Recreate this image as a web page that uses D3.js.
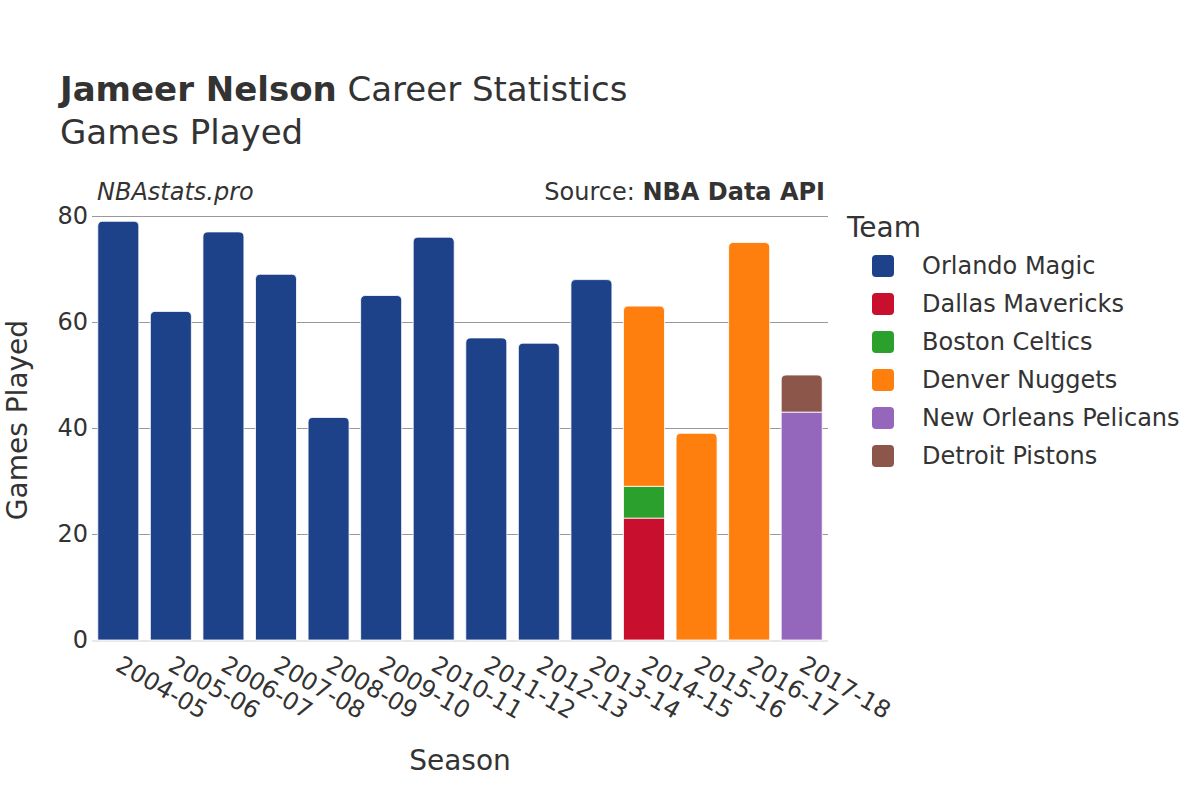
<!DOCTYPE html>
<html><head><meta charset="utf-8">
<script src="https://cdn.jsdelivr.net/npm/d3@7"></script>
<style>body{margin:0;background:#fff}svg{display:block}text{font-family:"DejaVu Sans",sans-serif;fill:#333}</style>
</head><body><svg id="c" width="1200" height="800"></svg>
<script>
const seasons = ["2004-05","2005-06","2006-07","2007-08","2008-09","2009-10","2010-11","2011-12","2012-13","2013-14","2014-15","2015-16","2016-17","2017-18"];
const teams = ["Orlando Magic","Dallas Mavericks","Boston Celtics","Denver Nuggets","New Orleans Pelicans","Detroit Pistons"];
const teamColors = ["#1d428a","#c8102e","#2ca02c","#ff7f0e","#9467bd","#8c564b"];
const orlando = [79,62,77,69,42,65,76,57,56,68,0,0,0,0];
const dallas  = [0,0,0,0,0,0,0,0,0,0,23,0,0,0];
const boston  = [0,0,0,0,0,0,0,0,0,0,6,0,0,0];
const denver  = [0,0,0,0,0,0,0,0,0,0,34,39,75,0];
const pelicans= [0,0,0,0,0,0,0,0,0,0,0,0,0,43];
const detroit = [0,0,0,0,0,0,0,0,0,0,0,0,0,7];
const yTicks = [0,20,40,60,80];
const series = [orlando,dallas,boston,denver,pelicans,detroit];

const svg = d3.select("#c");
const L=92,R=828,T=216,B=640;
const x = d3.scaleBand().domain(seasons).range([L,R]).paddingInner(0.22).paddingOuter(0.11);
const y = d3.scaleLinear().domain([0,80]).range([B,T]);

// grid
svg.append("g").selectAll("line").data(yTicks.filter(d=>d>0)).join("line")
  .attr("x1",L).attr("x2",R).attr("y1",d=>Math.round(y(d))+0.5).attr("y2",d=>Math.round(y(d))+0.5)
  .attr("stroke","#999").attr("stroke-width",1);
// baseline
svg.append("line").attr("x1",L).attr("x2",R).attr("y1",B+1).attr("y2",B+1).attr("stroke","#e8e8e8").attr("stroke-width",2);

// stacked bars
const r=5;
function topRounded(x0,y0,w,h){
  const rr=Math.min(r,h,w/2);
  return `M${x0},${y0+h}V${y0+rr}Q${x0},${y0} ${x0+rr},${y0}H${x0+w-rr}Q${x0+w},${y0} ${x0+w},${y0+rr}V${y0+h}Z`;
}
const g = svg.append("g");
seasons.forEach((s,i)=>{
  let acc=0;
  const segs=[];
  series.forEach((arr,k)=>{ if(arr[i]>0){ segs.push({k,v0:acc,v1:acc+arr[i]}); acc+=arr[i]; } });
  segs.forEach((sg,j)=>{
    const x0=x(s), w=x.bandwidth(), y0=y(sg.v1), h=y(sg.v0)-y(sg.v1);
    const isTop = j===segs.length-1;
    g.append("path").attr("d", isTop?topRounded(x0,y0,w,h):`M${x0},${y0}H${x0+w}V${y0+h}H${x0}Z`)
      .attr("fill",teamColors[sg.k]).attr("stroke","#fff").attr("stroke-width",0.8);
  });
});

// y ticks
svg.append("g").selectAll("text").data(yTicks).join("text")
  .attr("x",L-4).attr("y",d=>y(d)).attr("dy","0.35em").attr("text-anchor","end")
  .attr("font-size",24).text(d=>d);
// x ticks
svg.append("g").selectAll("text").data(seasons).join("text")
  .attr("transform",d=>`translate(${x(d)+x.bandwidth()/2+5},${B+14}) rotate(30)`)
  .attr("text-anchor","start").attr("dy","0.75em").attr("font-size",24).text(d=>d);

// axis titles
svg.append("text").attr("x",460).attr("y",770).attr("text-anchor","middle").attr("font-size",28).text("Season");
svg.append("text").attr("transform","translate(27,420) rotate(-90)").attr("text-anchor","middle").attr("font-size",28).text("Games Played");

// titles
const t=svg.append("text").attr("x",60).attr("y",101).attr("font-size",34);
t.append("tspan").attr("font-weight","bold").text("Jameer Nelson");
t.append("tspan").text(" Career Statistics");
svg.append("text").attr("x",60).attr("y",144).attr("font-size",34).text("Games Played");
svg.append("text").attr("x",97).attr("y",200).attr("font-size",24).attr("font-style","italic").text("NBAstats.pro");
const src=svg.append("text").attr("x",825).attr("y",200).attr("font-size",24).attr("text-anchor","end");
src.append("tspan").text("Source: ");
src.append("tspan").attr("font-weight","bold").text("NBA Data API");

// legend
svg.append("text").attr("x",847).attr("y",237).attr("font-size",28).text("Team");
const lg=svg.append("g").selectAll("g").data(teams).join("g").attr("transform",(d,i)=>`translate(0,${266+i*38})`);
lg.append("rect").attr("x",872).attr("y",-11).attr("width",22).attr("height",22).attr("rx",4).attr("fill",(d,i)=>teamColors[i]);
lg.append("text").attr("x",922).attr("dy","0.35em").attr("font-size",24).text(d=>d);
</script></body></html>
